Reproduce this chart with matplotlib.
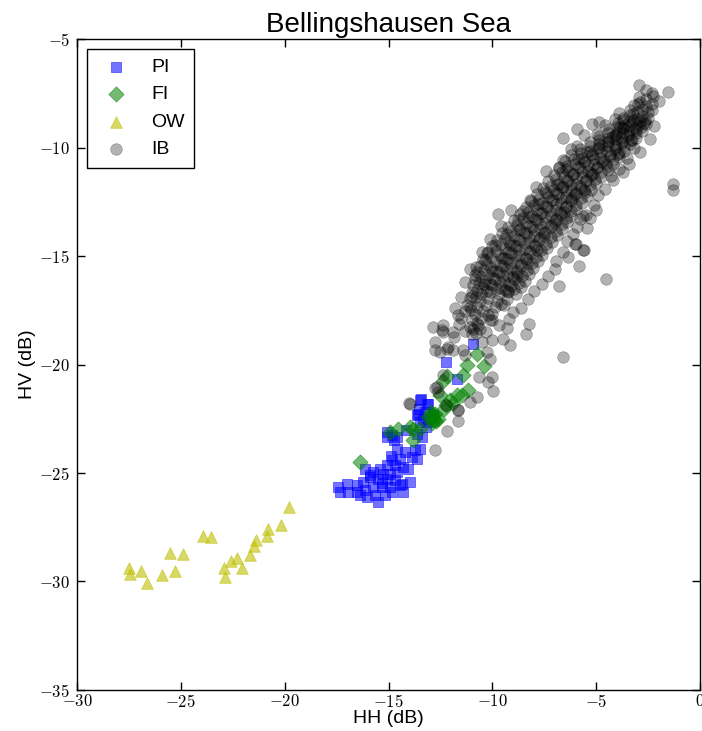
import matplotlib
matplotlib.use('Agg')
import matplotlib.pyplot as plt
from matplotlib.ticker import FuncFormatter, MultipleLocator

plt.rcParams['font.family'] = ['Liberation Sans', 'DejaVu Sans']
plt.rcParams['mathtext.fontset'] = 'cm'

# ---- data (HH, HV in dB) ----
pi_hh = [-10.95, -12.23, -11.69, -13.45, -13.09, -13.57,
         -13.49, -13.13, -13.52, -13.25, -13.62, -13.33, -13.49, -13.09, -12.85, -13.2,
         -15.09, -14.85, -15.09, -14.61, -14.74, -13.65, -13.4, -14.16,
         -14.61, -14.21, -13.73, -13.49, -13.89, -13.65, -14.45, -14.85, -15.09, -14.69,
         -14.29, -14.05, -15.41, -15.73, -16.13, -15.25, -14.93, -14.61, -15.89, -15.49,
         -15.09, -14.69, -14.37, -13.97, -16.21, -16.53, -17.01, -17.42, -17.34, -16.94,
         -16.53, -16.13, -15.73, -15.33, -14.93, -14.45, -16.05, -15.65, -15.49, -15.17,
         -16.37, -14.85, -14.29, -15.3, -15.9, -14.9]
pi_hv = [-19.07, -19.88, -20.65, -21.58, -21.84, -22.27,
         -21.62, -21.8, -22.04, -22.19, -22.34, -22.5, -22.65, -22.65, -22.34, -22.88,
         -23.11, -23.26, -23.34, -23.34, -23.49, -23.19, -23.34, -23.03,
         -23.88, -24.03, -23.95, -23.88, -24.26, -24.34, -24.34, -24.42, -24.65, -24.65,
         -24.72, -24.8, -24.8, -24.95, -24.8, -25.03, -25.03, -24.95, -25.18, -25.26,
         -25.26, -25.34, -25.49, -25.41, -25.41, -25.57, -25.49, -25.65, -25.88, -25.88,
         -25.88, -25.8, -25.65, -25.65, -25.65, -25.57, -26.11, -26.03, -26.34, -26.03,
         -26.03, -25.88, -25.88, -25.45, -25.1, -24.2]

fi_hh = [-10.72, -10.42, -11.2, -11.4, -12.2, -12.36, -11.16, -11.45, -11.72, -12.52,
         -11.88, -12.04, -12.23, -12.33, -12.84, -12.6, -12.95, -13.09, -13.49, -13.81,
         -13.97, -14.53, -14.93, -13.81, -16.37, -12.7, -12.9, -12.75, -12.8, -12.9]
fi_hv = [-19.5, -20.08, -20.04, -20.5, -20.54, -20.75, -21.19, -21.42, -21.4, -21.4,
         -21.77, -21.65, -21.88, -22.04, -22.34, -22.5, -22.2, -22.42, -22.96, -22.96,
         -22.88, -22.96, -23.11, -23.49, -24.49, -22.6, -22.7, -22.3, -22.55, -22.45]

ow_hh = [-27.45, -27.5, -26.9, -26.65, -25.9, -25.3, -25.5, -24.9, -23.95, -23.55, -22.9,
         -22.85, -22.6, -22.3, -22.05, -21.65, -21.5, -21.4, -20.85, -20.8, -20.2, -19.8]
ow_hv = [-29.65, -29.4, -29.5, -30.05, -29.7, -29.5, -28.7, -28.75, -27.9, -27.95, -29.4,
         -29.8, -29.05, -28.9, -29.4, -28.8, -28.35, -28.1, -27.9, -27.6, -27.4, -26.55]

ib_hh = [
    -2.6, -2.3,
    -2.95, -2.6, -2.25,
    -3.2, -2.9, -2.6, -2.3,
    -3.35, -3.05, -2.8, -2.5, -2.3,
    -3.7, -3.35, -3.05, -2.8, -2.5,
    -3.95, -3.6, -3.3, -3.0, -2.7,
    -4.4, -4.0, -3.7, -3.4, -3.1, -2.8,
    -4.85, -4.45, -4.1, -3.8, -3.45, -3.1,
    -5.3, -4.85, -4.45, -4.1, -3.75, -3.35,
    -5.8, -5.3, -4.9, -4.5, -4.1, -3.65,
    -6.2, -5.7, -5.2, -4.8, -4.35, -3.9,
    -6.5, -6.0, -5.55, -5.1, -4.7, -4.2,
    -6.8, -6.3, -5.8, -5.4, -4.95, -4.45,
    -7.05, -6.55, -6.1, -5.7, -5.25, -4.75,
    -7.3, -6.8, -6.35, -5.95, -5.5, -5.0,
    -7.55, -7.05, -6.6, -6.2, -5.75, -5.25,
    -7.85, -7.3, -6.85, -6.45, -6.0, -5.45,
    -8.15, -7.6, -7.1, -6.7, -6.2, -5.7,
    -8.4, -7.85, -7.35, -6.95, -6.45, -5.95,
    -8.65, -8.1, -7.6, -7.2, -6.7, -6.2,
    -8.95, -8.4, -7.85, -7.45, -6.95, -6.4,
    -9.25, -8.65, -8.1, -7.7, -7.2, -6.65,
    -9.55, -8.95, -8.4, -8.0, -7.5, -6.9,
    -9.8, -9.2, -8.65, -8.25, -7.75, -7.15,
    -10.0, -9.4, -8.85, -8.45, -7.95, -7.35,
    -10.25, -9.65, -9.1, -8.7, -8.2, -7.6,
    -10.45, -9.85, -9.3, -8.9, -8.4, -7.8,
    -10.6, -10.05, -9.5, -9.1, -8.6, -8.05,
    -10.75, -10.2, -9.7, -9.3, -8.8, -8.25,
    -10.85, -10.35, -9.85, -9.45, -8.95, -8.45,
    -10.95, -10.45, -10.0, -9.6, -9.1, -8.6,
    -11.0, -10.55, -10.1, -9.7, -9.25, -8.85,
    -11.1, -10.6, -10.2, -9.8, -9.3,
    -11.2, -10.75, -10.3, -9.85, -9.45,
    -11.3, -10.85, -10.45, -10.0,
    -11.5, -11.0, -10.55, -10.1,
    -11.6, -11.1, -10.7,
    -11.9, -11.3, -10.8,
    # second layer of the dense band
    -3.7, -3.42, -3.16, -2.91, -2.66,
    -4.02, -3.7, -3.41, -3.12, -2.84,
    -4.45, -4.07, -3.73, -3.4, -3.07,
    -4.86, -4.44, -4.07, -3.7, -3.33,
    -5.3, -4.85, -4.44, -4.04, -3.64,
    -5.72, -5.22, -4.79, -4.35, -3.91,
    -6.09, -5.57, -5.11, -4.66, -4.2,
    -6.39, -5.87, -5.41, -4.96, -4.5,
    -6.66, -6.14, -5.68, -5.23, -4.77,
    -6.93, -6.41, -5.95, -5.5, -5.04,
    -7.19, -6.67, -6.21, -5.76, -5.3,
    -7.45, -6.92, -6.45, -5.99, -5.52,
    -7.75, -7.19, -6.71, -6.23, -5.74,
    -8.0, -7.44, -6.95, -6.46, -5.97,
    -8.26, -7.7, -7.21, -6.72, -6.23,
    -8.52, -7.95, -7.45, -6.95, -6.45,
    -8.82, -8.22, -7.71, -7.19, -6.67,
    -9.1, -8.5, -7.98, -7.45, -6.93,
    -9.37, -8.77, -8.25, -7.72, -7.2,
    -9.6, -9.0, -8.48, -7.95, -7.43,
    -9.83, -9.23, -8.7, -8.18, -7.65,
    -10.05, -9.45, -8.93, -8.4, -7.88,
    -10.24, -9.64, -9.13, -8.61, -8.09,
    -10.4, -9.83, -9.33, -8.83, -8.33,
    -10.55, -9.99, -9.51, -9.03, -8.55,
    -10.64, -10.12, -9.65, -9.19, -8.73,
    -10.75, -10.25, -9.81, -9.38, -8.94,
    # irregular points inside the band
    -3.0, -3.25, -2.6, -3.85, -3.3, -4.25, -4.7, -3.95, -5.45, -4.55,
    -5.9, -5.15, -6.45, -5.6, -6.9, -6.1, -7.35, -6.55, -7.8, -7.0,
    -8.25, -7.5, -8.7, -7.85, -9.15, -8.35, -9.55, -8.8, -10.0, -9.25,
    -10.4, -9.6, -10.8, -10.2, -11.05,
    # ragged lower-right edge
    -2.2, -2.4, -2.9, -3.2, -3.5, -3.9, -4.2, -4.6, -4.9, -5.0,
    -5.5, -5.8, -6.1, -6.4, -6.6, -7.0, -7.3, -7.6, -8.0, -8.3,
    -8.6, -9.0, -9.3, -9.7,
    # upper-left edge
    -3.9, -4.6, -5.6, -6.2, -7.4, -7.9, -9.1, -9.6, -10.1, -10.5,
    -11.1, -11.3, -11.5, -11.8,
    # scattered points around the band
    -2.93, -1.56, -1.97, -1.32, -1.29, -3.42, -3.73, -4.31, -5.1, -5.3,
    -5.65, -5.94, -5.43, -5.97, -5.62, -6.34, -5.82, -6.94, -4.53, -6.81,
    -6.62, -8.4, -8.24, -6.02, -5.59,
    -6.62, -5.94, -5.22, -4.87, -4.1, -9.72, -10.79, -11.0, -10.84, -10.36,
    -10.2, -9.87, -9.31, -8.75, -8.54, -8.19, -6.78, -6.59, -5.94, -4.98,
    -9.48, -9.15, -10.1, -10.03, -10.63, -10.2, -9.99, -10.76, -11.1, -11.64,
    -12.68, -13.97, -11.64, -12.4, -12.36, -12.76, -12.52, -12.12, -11.88, -11.4,
    -10.92, -10.03, -10.76, -10.6, -10.3, -11.0, -11.08, -9.19, -10.04, -10.52,
    -10.28, -12.85, -12.76, -12.2, -11.85, -11.32, -12.36, -12.6, -14.0, -11.64,
    -12.2, -12.76, -12.23, -12.76, -11.64, -12.44]
ib_hv = [
    -7.35, -7.5,
    -7.65, -7.78, -7.62,
    -8.05, -7.92, -8.1, -7.98,
    -8.25, -8.38, -8.22, -8.35, -8.28,
    -8.62, -8.52, -8.68, -8.55, -8.66,
    -8.85, -8.97, -8.84, -8.95, -8.88,
    -9.15, -9.27, -9.12, -9.25, -9.18, -9.24,
    -9.45, -9.58, -9.44, -9.56, -9.48, -9.55,
    -9.76, -9.86, -9.74, -9.88, -9.78, -9.85,
    -10.05, -10.16, -10.04, -10.17, -10.06, -10.14,
    -10.36, -10.46, -10.34, -10.47, -10.38, -10.45,
    -10.64, -10.76, -10.66, -10.77, -10.65, -10.74,
    -10.95, -11.06, -10.94, -11.07, -10.96, -11.05,
    -11.25, -11.36, -11.24, -11.37, -11.26, -11.34,
    -11.55, -11.66, -11.54, -11.67, -11.56, -11.64,
    -11.85, -11.96, -11.84, -11.97, -11.86, -11.94,
    -12.15, -12.26, -12.14, -12.27, -12.16, -12.24,
    -12.45, -12.56, -12.44, -12.57, -12.46, -12.54,
    -12.75, -12.86, -12.74, -12.87, -12.76, -12.84,
    -13.05, -13.16, -13.04, -13.17, -13.06, -13.14,
    -13.35, -13.46, -13.34, -13.47, -13.36, -13.44,
    -13.65, -13.76, -13.64, -13.77, -13.66, -13.74,
    -13.95, -14.06, -13.94, -14.07, -13.96, -14.04,
    -14.25, -14.36, -14.24, -14.37, -14.26, -14.34,
    -14.55, -14.66, -14.54, -14.67, -14.56, -14.64,
    -14.85, -14.96, -14.84, -14.97, -14.86, -14.94,
    -15.15, -15.26, -15.14, -15.27, -15.16, -15.24,
    -15.45, -15.56, -15.44, -15.57, -15.46, -15.54,
    -15.75, -15.86, -15.74, -15.87, -15.76, -15.84,
    -16.05, -16.16, -16.04, -16.17, -16.06, -16.14,
    -16.35, -16.46, -16.34, -16.47, -16.36, -16.44,
    -16.65, -16.76, -16.64, -16.77, -16.66, -16.74,
    -16.95, -17.06, -16.94, -17.07, -16.96,
    -17.25, -17.36, -17.24, -17.37, -17.26,
    -17.55, -17.66, -17.54, -17.67,
    -17.85, -17.96, -17.84, -17.97,
    -18.15, -18.26, -18.2,
    -18.5, -18.45, -18.55,
    # second layer
    -8.75, -8.8, -8.72, -8.78, -8.74,
    -9.05, -9.1, -9.02, -9.08, -9.04,
    -9.35, -9.4, -9.32, -9.38, -9.34,
    -9.65, -9.7, -9.62, -9.68, -9.64,
    -9.95, -10.0, -9.92, -9.98, -9.94,
    -10.25, -10.3, -10.22, -10.28, -10.24,
    -10.55, -10.6, -10.52, -10.58, -10.54,
    -10.85, -10.9, -10.82, -10.88, -10.84,
    -11.15, -11.2, -11.12, -11.18, -11.14,
    -11.45, -11.5, -11.42, -11.48, -11.44,
    -11.75, -11.8, -11.72, -11.78, -11.74,
    -12.05, -12.1, -12.02, -12.08, -12.04,
    -12.35, -12.4, -12.32, -12.38, -12.34,
    -12.65, -12.7, -12.62, -12.68, -12.64,
    -12.95, -13.0, -12.92, -12.98, -12.94,
    -13.25, -13.3, -13.22, -13.28, -13.24,
    -13.55, -13.6, -13.52, -13.58, -13.54,
    -13.85, -13.9, -13.82, -13.88, -13.84,
    -14.15, -14.2, -14.12, -14.18, -14.14,
    -14.45, -14.5, -14.42, -14.48, -14.44,
    -14.75, -14.8, -14.72, -14.78, -14.74,
    -15.05, -15.1, -15.02, -15.08, -15.04,
    -15.35, -15.4, -15.32, -15.38, -15.34,
    -15.65, -15.7, -15.62, -15.68, -15.64,
    -15.95, -16.0, -15.92, -15.98, -15.94,
    -16.25, -16.3, -16.22, -16.28, -16.24,
    -16.55, -16.6, -16.52, -16.58, -16.54,
    # irregular points inside the band
    -8.0, -8.45, -8.9, -9.05, -9.65, -9.5, -9.9, -10.3, -10.2, -10.75,
    -10.55, -11.2, -11.0, -11.95, -11.7, -12.3, -12.1, -12.95, -12.6, -13.5,
    -13.2, -14.1, -13.8, -14.7, -14.5, -15.3, -15.1, -15.9, -15.7, -16.6,
    -16.3, -17.2, -16.9, -17.7, -17.5,
    # ragged lower-right edge
    -9.0, -9.6, -10.2, -10.0, -10.5, -11.0, -11.5, -11.9, -12.2, -12.9,
    -13.1, -13.3, -14.0, -14.3, -14.8, -15.6, -15.9, -16.3, -16.6, -17.0,
    -17.4, -17.6, -18.3, -18.2,
    # upper-left edge
    -8.4, -8.95, -9.4, -10.05, -11.1, -11.8, -12.9, -13.6, -14.2, -14.8,
    -15.6, -16.2, -16.9, -17.4,
    # scattered
    -7.13, -7.44, -7.86, -11.7, -11.94, -10.75, -11.13, -11.33, -12.66, -13.23,
    -13.17, -13.66, -13.7, -14.46, -14.71, -15.05, -15.48, -15.23, -16.05, -16.4,
    -19.65, -18.58, -18.12, -14.43, -14.71,
    -9.55, -9.13, -8.9, -8.83, -8.67, -13.08, -15.5, -16.86, -15.89, -15.2,
    -14.82, -14.51, -13.97, -13.36, -12.93, -12.43, -10.9, -10.59, -9.95, -9.36,
    -18.81, -19.12, -19.73, -20.58, -20.58, -20.8, -21.22, -21.5, -21.73, -22.11,
    -21.04, -21.8, -17.73, -18.2, -18.5, -19.32, -19.42, -19.19, -19.35, -19.35,
    -18.35, -17.96, -18.1, -18.35, -18.5, -18.6, -17.35, -17.9, -18.88, -18.96,
    -19.42, -18.27, -18.96, -19.27, -18.73, -19.58, -20.5, -21.27, -21.77, -22.11,
    -23.06, -23.92, -21.88, -21.1, -22.6, -18.4]

fig = plt.figure(figsize=(7.02, 7.31), dpi=100)
ax = fig.add_axes([0.1097, 0.0561, 0.8875, 0.8905])

s = 60
ax.scatter(pi_hh, pi_hv, s=s, marker='s', c='b', alpha=0.55, edgecolors='face',
           linewidths=0.6, label='PI')
ax.scatter(fi_hh, fi_hv, s=s, marker='D', c='g', alpha=0.55, edgecolors='face',
           linewidths=0.6, label='FI')
ax.scatter(ow_hh, ow_hv, s=s + 10, marker='^', c='y', alpha=0.6, edgecolors='face',
           linewidths=0.6, label='OW')
ax.scatter(ib_hh, ib_hv, s=s + 10, marker='o', c='k', alpha=0.3, edgecolors='face',
           linewidths=0.5, label='IB')

ax.set_xlim(-30, 0)
ax.set_ylim(-35, -5)
ax.xaxis.set_major_locator(MultipleLocator(5))
ax.yaxis.set_major_locator(MultipleLocator(5))
fmt = FuncFormatter(lambda v, p: r'$%d$' % v)
ax.xaxis.set_major_formatter(fmt)
ax.yaxis.set_major_formatter(fmt)
ax.tick_params(direction='in', top=True, right=True, length=6, width=1, labelsize=12)
ax.tick_params(axis='x', pad=2)
ax.tick_params(axis='y', pad=5)
for sp in ax.spines.values():
    sp.set_linewidth(1.0)

ax.set_title('Bellingshausen Sea', fontsize=20, pad=5)
ax.set_xlabel('HH (dB)', fontsize=14, labelpad=0)
ax.set_ylabel('HV (dB)', fontsize=14, labelpad=2)

leg = ax.legend(loc='upper left', scatterpoints=1, fontsize=14, fancybox=False,
                edgecolor='black', framealpha=1, borderpad=0.5, handletextpad=0.8,
                labelspacing=0.5, borderaxespad=0.5)
leg.get_frame().set_linewidth(1.0)

fig.savefig('out.png', dpi=100)
